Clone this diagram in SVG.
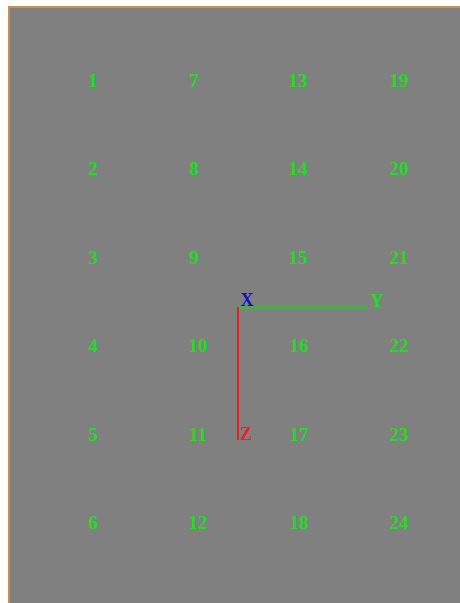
<svg xmlns="http://www.w3.org/2000/svg" width="460" height="603" viewBox="0 0 460 603">
<style>
.n{font-family:"Liberation Serif",serif;font-weight:bold;font-size:19px;fill:#22dd22;text-anchor:middle}
.ax{font-family:"Liberation Serif",serif;font-weight:bold;font-size:18px;text-anchor:middle}
</style>
<rect x="0" y="0" width="460" height="603" fill="#ffffff"/>
<rect x="8" y="6" width="452" height="597" fill="#c8904a"/>
<rect x="10" y="8" width="450" height="595" fill="#808080"/>
<g id="connectors">
<line x1="238" y1="307.5" x2="368" y2="307.5" stroke="#22cc22" stroke-width="2"/>
<line x1="238" y1="307" x2="238" y2="440" stroke="#dd2222" stroke-width="2"/>
</g>
<g id="axis-x"><text class="ax" x="247" y="306" fill="#1010cc">X</text></g>
<g id="axis-y"><text class="ax" x="377" y="307" fill="#22dd22">Y</text></g>
<g id="axis-z"><text class="ax" x="246" y="440" fill="#ee2222">Z</text></g>
<g id="n1"><text class="n" x="93" y="87">1</text></g>
<g id="n2"><text class="n" x="93" y="175">2</text></g>
<g id="n3"><text class="n" x="93" y="264">3</text></g>
<g id="n4"><text class="n" x="93" y="352">4</text></g>
<g id="n5"><text class="n" x="93" y="441">5</text></g>
<g id="n6"><text class="n" x="93" y="529">6</text></g>
<g id="n7"><text class="n" x="194" y="87">7</text></g>
<g id="n8"><text class="n" x="194" y="175">8</text></g>
<g id="n9"><text class="n" x="194" y="264">9</text></g>
<g id="n10"><text class="n" x="198" y="352">10</text></g>
<g id="n11"><text class="n" x="198" y="441">11</text></g>
<g id="n12"><text class="n" x="198" y="529">12</text></g>
<g id="n13"><text class="n" x="298" y="87">13</text></g>
<g id="n14"><text class="n" x="298" y="175">14</text></g>
<g id="n15"><text class="n" x="298" y="264">15</text></g>
<g id="n16"><text class="n" x="299" y="352">16</text></g>
<g id="n17"><text class="n" x="299" y="441">17</text></g>
<g id="n18"><text class="n" x="299" y="529">18</text></g>
<g id="n19"><text class="n" x="399" y="87">19</text></g>
<g id="n20"><text class="n" x="399" y="175">20</text></g>
<g id="n21"><text class="n" x="399" y="264">21</text></g>
<g id="n22"><text class="n" x="399" y="352">22</text></g>
<g id="n23"><text class="n" x="399" y="441">23</text></g>
<g id="n24"><text class="n" x="399" y="529">24</text></g>
</svg>
